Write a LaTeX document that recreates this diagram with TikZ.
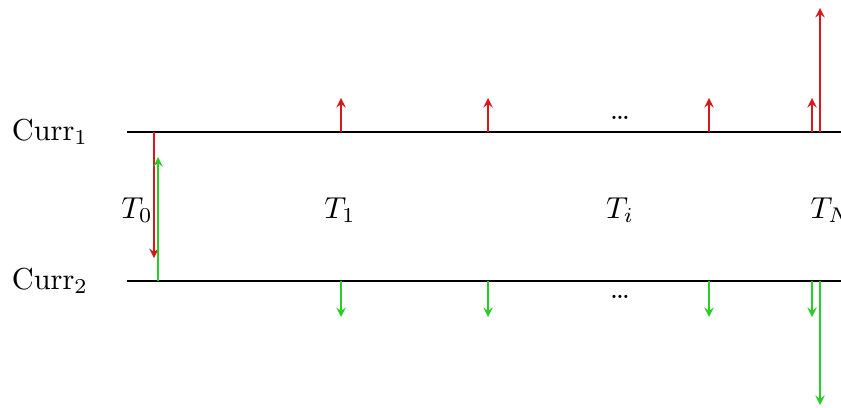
\documentclass[tikz,border=0pt]{standalone}
\usepackage{amsmath, amssymb}
\usepackage{tikz}

\definecolor{payred}{RGB}{215,25,30}
\definecolor{recgreen}{RGB}{40,205,40}

\begin{document}
\begin{tikzpicture}[x=0.33pt, y=-0.33pt, >=stealth]
% --- Global Styles ---
\tikzstyle{leg} = [thick]
\tikzstyle{pay} = [->, payred]
\tikzstyle{rec} = [->, recgreen]

% --- Row and Column Coordinates ---
\def\ya{132}   % Curr_1 leg
\def\yb{281}   % Curr_2 leg
\def\xs{127}   % legs start
\def\xe{860}   % legs end (cut by the page)
\def\ym{210}   % date labels

\useasboundingbox (0,0) rectangle (841,407);
\clip (0,0) rectangle (841,407);

% ==========================================
% LEGS
% ==========================================
\node (curr1) at (50,\ya) {Curr$_1$};
\node (curr2) at (50,\yb) {Curr$_2$};

\coordinate (legAs) at (\xs,\ya);
\coordinate (legAe) at (\xe,\ya);
\coordinate (legBs) at (\xs,\yb);
\coordinate (legBe) at (\xe,\yb);
\draw[leg] (legAs) -- (legAe);
\draw[leg] (legBs) -- (legBe);

% ==========================================
% DATES
% ==========================================
\node (t0) at (137,\ym) {$T_0$};
\node (t1) at (340,\ym) {$T_1$};
\node (ti) at (620,\ym) {$T_i$};
\node (tn) at (831,\ym) {$T_N$};

\node (dotsA) at (620,118) {\dots};
\node (dotsB) at (620,297) {\dots};

% ==========================================
% INITIAL EXCHANGE
% ==========================================
\coordinate (x0A) at (154,\ya);
\coordinate (x0Atip) at (154,258);
\coordinate (x0B) at (158,\yb);
\coordinate (x0Btip) at (158,157);
\draw[pay] (x0A) -- (x0Atip);
\draw[rec] (x0B) -- (x0Btip);

% ==========================================
% COUPONS
% ==========================================
\foreach \x/\n in {341/1, 488/2, 709/3, 812/4} {
  \coordinate (cA\n) at (\x,\ya);
  \coordinate (cAtip\n) at (\x,98);
  \coordinate (cB\n) at (\x,\yb);
  \coordinate (cBtip\n) at (\x,317);
  \draw[pay] (cA\n) -- (cAtip\n);
  \draw[rec] (cB\n) -- (cBtip\n);
}

% ==========================================
% FINAL EXCHANGE
% ==========================================
\coordinate (xNA) at (820,\ya);
\coordinate (xNAtip) at (820,8);
\coordinate (xNB) at (820,\yb);
\coordinate (xNBtip) at (820,405);
\draw[pay] (xNA) -- (xNAtip);
\draw[rec] (xNB) -- (xNBtip);

\end{tikzpicture}
\end{document}
